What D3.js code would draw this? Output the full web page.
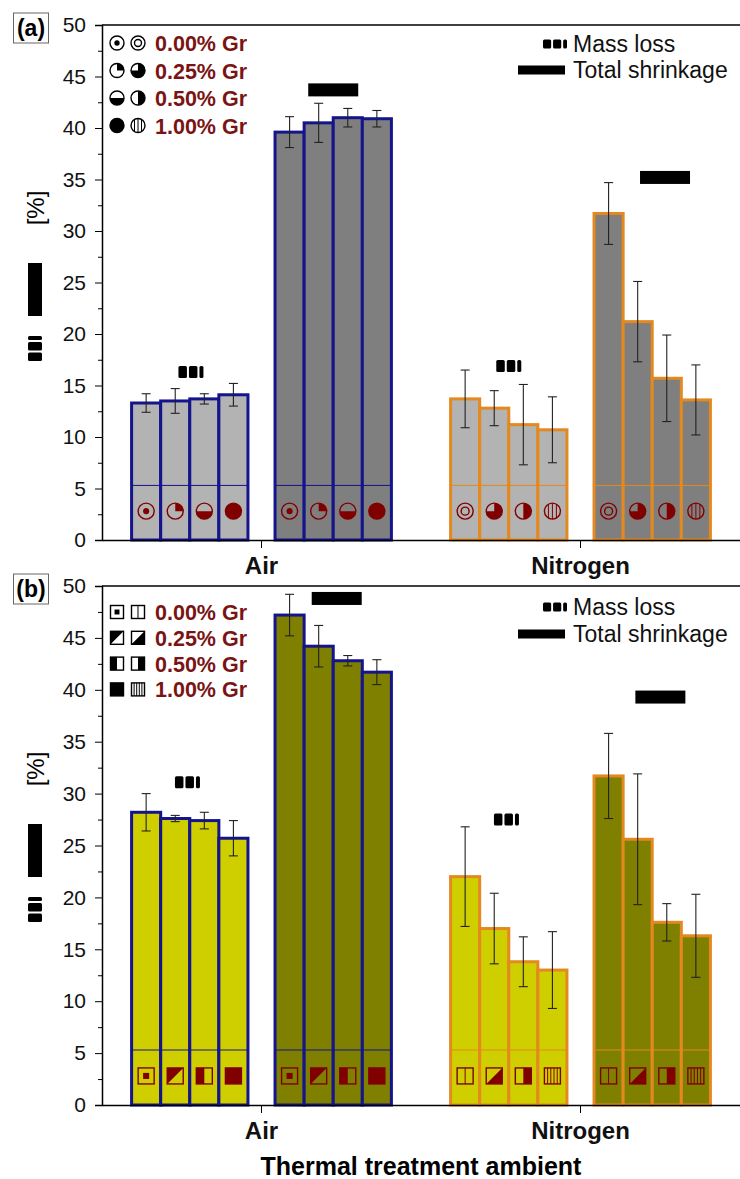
<!DOCTYPE html>
<html>
<head>
<meta charset="utf-8">
<title>Mass loss and total shrinkage</title>
<script src="https://d3js.org/d3.v7.min.js"></script>
<style>
  body { margin: 0; background: #fff; }
  svg { display: block; font-family: Arial, "Liberation Sans", sans-serif; }
</style>
</head>
<body>
<script>
// categories and labels
var categories = ["Air", "Nitrogen"];
var groups = ["mass", "shrink"];
var grLevels = ["0.00% Gr", "0.25% Gr", "0.50% Gr", "1.00% Gr"];
var legendNames = ["Mass loss", "Total shrinkage"];
var yTickValues = [0, 5, 10, 15, 20, 25, 30, 35, 40, 45, 50];
var yMinorValues = [2.5, 7.5, 12.5, 17.5, 22.5, 27.5, 32.5, 37.5, 42.5, 47.5];

// panel (a)
var aAirMass = [13.3, 13.5, 13.7, 14.1];
var aAirMassErr = [0.9, 1.2, 0.5, 1.1];
var aAirShrink = [39.6, 40.5, 41.0, 40.9];
var aAirShrinkErr = [1.5, 1.9, 0.9, 0.8];
var aN2Mass = [13.7, 12.8, 11.2, 10.7];
var aN2MassErr = [2.8, 1.7, 3.9, 3.2];
var aN2Shrink = [31.7, 21.2, 15.7, 13.6];
var aN2ShrinkErr = [3.0, 3.9, 4.2, 3.4];
// label markers above the groups (y value): Air mass, Air shrink, N2 mass, N2 shrink
var aMarkerY = [16.3, 43.7, 16.9, 35.2];

// panel (b)
var bAirMass = [28.2, 27.6, 27.4, 25.7];
var bAirMassErr = [1.8, 0.3, 0.8, 1.7];
var bAirShrink = [47.2, 44.2, 42.8, 41.7];
var bAirShrinkErr = [2.0, 2.0, 0.5, 1.2];
var bN2Mass = [22.0, 17.0, 13.8, 13.0];
var bN2MassErr = [4.8, 3.4, 2.4, 3.7];
var bN2Shrink = [31.7, 25.6, 17.6, 16.3];
var bN2ShrinkErr = [4.1, 6.3, 1.8, 4.0];
var bMarkerY = [31.1, 48.8, 27.5, 39.3];

var width = 740, height = 1179;
var left = 102, right = 740;
var symColor = "#800000";
var edgeColors = {"Air": "#14148c", "Nitrogen": "#e3891f"};

var svg = d3.select("body").append("svg")
  .attr("width", width)
  .attr("height", height);

function buildRows(am, ame, as, ase, nm, nme, ns, nse) {
  var rows = [];
  var src = [["Air", "mass", am, ame], ["Air", "shrink", as, ase],
             ["Nitrogen", "mass", nm, nme], ["Nitrogen", "shrink", ns, nse]];
  src.forEach(function(s) {
    s[2].forEach(function(v, i) {
      rows.push({cat: s[0], grp: s[1], i: i, v: v, e: s[3][i]});
    });
  });
  return rows;
}

var panels = [
  {label: "(a)", top: 25, bottom: 540, shape: "circle",
   fills: {mass: "#b3b3b3", shrink: "#7f7f7f"},
   rows: buildRows(aAirMass, aAirMassErr, aAirShrink, aAirShrinkErr, aN2Mass, aN2MassErr, aN2Shrink, aN2ShrinkErr),
   markers: aMarkerY, markerFrac: [0.51, 0.5, 0.5, 0.61],
   legRowTop: 18, legRowStep: 27.5, legR: 7, rightLeg: [19, 45]},
  {label: "(b)", top: 586, bottom: 1105, shape: "square",
   fills: {mass: "#cfcf00", shrink: "#7f7f00"},
   rows: buildRows(bAirMass, bAirMassErr, bAirShrink, bAirShrinkErr, bN2Mass, bN2MassErr, bN2Shrink, bN2ShrinkErr),
   markers: bMarkerY, markerFrac: [0.48, 0.53, 0.48, 0.57],
   legRowTop: 26, legRowStep: 25.8, legR: 6.5, rightLeg: [21, 48]}
];

var xCat = d3.scaleBand().domain(categories).range([left, right]);
var xGroup = d3.scaleBand().domain(groups).range([0, xCat.bandwidth()])
  .paddingInner(27 / 143).paddingOuter(29.5 / 143);
var xBar = d3.scaleBand().domain([0, 1, 2, 3]).range([0, xGroup.bandwidth()]);

function drawSymbol(g, shape, env, lvl, cx, cy, r, col) {
  var s = g.append("g").attr("fill", col).attr("stroke", col).attr("stroke-width", 1.4);
  if (shape == "circle") {
    if (env == "Air" && lvl == 3) {
      s.append("circle").attr("cx", cx).attr("cy", cy).attr("r", r);
      return;
    }
    s.append("circle").attr("cx", cx).attr("cy", cy).attr("r", r).attr("fill", "none");
    var p = null;
    if (env == "Air") {
      if (lvl == 0) s.append("circle").attr("cx", cx).attr("cy", cy).attr("r", r * 0.38).attr("stroke", "none");
      if (lvl == 1) p = "M" + cx + "," + cy + "L" + cx + "," + (cy - r) + "A" + r + "," + r + " 0 0 1 " + (cx + r) + "," + cy + "Z";
      if (lvl == 2) p = "M" + (cx - r) + "," + cy + "A" + r + "," + r + " 0 0 0 " + (cx + r) + "," + cy + "Z";
    } else {
      if (lvl == 0) s.append("circle").attr("cx", cx).attr("cy", cy).attr("r", r * 0.5).attr("fill", "none");
      if (lvl == 1) p = "M" + cx + "," + cy + "L" + cx + "," + (cy - r) + "A" + r + "," + r + " 0 1 1 " + (cx - r) + "," + cy + "Z";
      if (lvl == 2) p = "M" + cx + "," + (cy - r) + "A" + r + "," + r + " 0 0 1 " + cx + "," + (cy + r) + "Z";
      if (lvl == 3) {
        [-0.5, 0, 0.5].forEach(function(f) {
          var dx = f * r, dy = Math.sqrt(r * r - dx * dx);
          s.append("line").attr("x1", cx + dx).attr("x2", cx + dx)
            .attr("y1", cy - dy).attr("y2", cy + dy).attr("stroke-width", 1);
        });
      }
    }
    if (p) s.append("path").attr("d", p).attr("stroke", "none");
  } else {
    var x0 = cx - r, x1 = cx + r, y0 = cy - r, y1 = cy + r;
    if (env == "Air" && lvl == 3) {
      s.append("rect").attr("x", x0).attr("y", y0).attr("width", 2 * r).attr("height", 2 * r);
      return;
    }
    s.append("rect").attr("x", x0).attr("y", y0).attr("width", 2 * r).attr("height", 2 * r).attr("fill", "none");
    if (env == "Air") {
      if (lvl == 0) s.append("rect").attr("x", cx - r * 0.38).attr("y", cy - r * 0.38)
        .attr("width", r * 0.76).attr("height", r * 0.76).attr("stroke", "none");
      if (lvl == 1) s.append("path").attr("d", "M" + x0 + "," + y0 + "L" + x1 + "," + y0 + "L" + x0 + "," + y1 + "Z").attr("stroke", "none");
      if (lvl == 2) s.append("rect").attr("x", x0).attr("y", y0).attr("width", r).attr("height", 2 * r).attr("stroke", "none");
    } else {
      if (lvl == 0) s.append("line").attr("x1", cx).attr("x2", cx).attr("y1", y0).attr("y2", y1).attr("stroke-width", 1);
      if (lvl == 1) s.append("path").attr("d", "M" + x1 + "," + y0 + "L" + x1 + "," + y1 + "L" + x0 + "," + y1 + "Z").attr("stroke", "none");
      if (lvl == 2) s.append("rect").attr("x", cx).attr("y", y0).attr("width", r).attr("height", 2 * r).attr("stroke", "none");
      if (lvl == 3) {
        [-0.6, -0.2, 0.2, 0.6].forEach(function(f) {
          s.append("line").attr("x1", cx + f * r).attr("x2", cx + f * r)
            .attr("y1", y0).attr("y2", y1).attr("stroke-width", 1);
        });
      }
    }
  }
}

// three little blocks, the "mass loss" mark
function massIcon(g, cx, cy, w, h, vertical) {
  var parts = [[0, 0.34], [0.42, 0.34], [0.84, 0.16]];
  parts.forEach(function(pt) {
    if (!vertical) {
      g.append("rect").attr("x", cx - w / 2 + pt[0] * w).attr("y", cy - h / 2)
        .attr("width", pt[1] * w).attr("height", h).attr("rx", 1.5).attr("fill", "#000");
    } else {
      // w along y (bottom first), h along x
      g.append("rect").attr("x", cx - h / 2).attr("y", cy + w / 2 - (pt[0] + pt[1]) * w)
        .attr("width", h).attr("height", pt[1] * w).attr("rx", 1.5).attr("fill", "#000");
    }
  });
}

function shrinkIcon(g, cx, cy, w, h) {
  g.append("rect").attr("x", cx - w / 2).attr("y", cy - h / 2)
    .attr("width", w).attr("height", h).attr("fill", "#000");
}

function drawPanel(p) {
  var g = svg.append("g");
  var y = d3.scaleLinear().domain([0, 50]).range([p.bottom, p.top]);

  // bars
  var bars = g.append("g");
  p.rows.forEach(function(d) {
    var x = xCat(d.cat) + xGroup(d.grp) + xBar(d.i);
    var bw = xBar.bandwidth();
    var col = edgeColors[d.cat];
    bars.append("rect")
      .attr("x", x).attr("y", y(d.v))
      .attr("width", bw).attr("height", y(0) - y(d.v))
      .attr("fill", p.fills[d.grp])
      .attr("stroke", col).attr("stroke-width", 3);
    bars.append("line")
      .attr("x1", x).attr("x2", x + bw)
      .attr("y1", y(5.3)).attr("y2", y(5.3))
      .attr("stroke", col).attr("stroke-width", 1);
    drawSymbol(bars, p.shape, d.cat, d.i, x + bw / 2, y(2.8), 8, symColor);
  });

  // error bars
  var eb = g.append("g").attr("stroke", "#222").attr("stroke-width", 1.1);
  p.rows.forEach(function(d) {
    var cx = xCat(d.cat) + xGroup(d.grp) + xBar(d.i) + xBar.bandwidth() / 2;
    eb.append("line").attr("x1", cx).attr("x2", cx).attr("y1", y(d.v + d.e)).attr("y2", y(d.v - d.e));
    eb.append("line").attr("x1", cx - 4.5).attr("x2", cx + 4.5).attr("y1", y(d.v + d.e)).attr("y2", y(d.v + d.e));
    eb.append("line").attr("x1", cx - 4.5).attr("x2", cx + 4.5).attr("y1", y(d.v - d.e)).attr("y2", y(d.v - d.e));
  });

  // marks over each group
  var mk = [["Air", "mass"], ["Air", "shrink"], ["Nitrogen", "mass"], ["Nitrogen", "shrink"]];
  mk.forEach(function(m, k) {
    var cx = xCat(m[0]) + xGroup(m[1]) + p.markerFrac[k] * xGroup.bandwidth();
    if (m[1] == "mass") massIcon(g, cx, y(p.markers[k]), 25, 12, false);
    else shrinkIcon(g, cx, y(p.markers[k]), 50, 13);
  });

  // axes
  var yAxis = g.append("g").attr("transform", "translate(" + left + ",0)")
    .call(d3.axisLeft(y).tickValues(yTickValues).tickSize(7).tickPadding(9).tickFormat(d3.format("d")));
  yAxis.selectAll("text").attr("font-size", 21).attr("fill", "#111").attr("font-family", "Arial, 'Liberation Sans', sans-serif");
  yAxis.select(".domain").attr("stroke-width", 1.5);
  var yMinor = g.append("g").attr("transform", "translate(" + left + ",0)")
    .call(d3.axisLeft(y).tickValues(yMinorValues).tickSize(4).tickFormat(""));
  yMinor.select(".domain").remove();

  var xAxis = g.append("g").attr("transform", "translate(0," + p.bottom + ")")
    .call(d3.axisBottom(xCat).tickSize(8).tickSizeOuter(0).tickPadding(9));
  xAxis.selectAll("text").attr("font-size", 24).attr("font-weight", "bold").attr("fill", "#111")
    .attr("font-family", "Arial, 'Liberation Sans', sans-serif");
  xAxis.select(".domain").attr("stroke-width", 1.5);

  // top frame
  g.append("line").attr("x1", left).attr("x2", right).attr("y1", p.top).attr("y2", p.top)
    .attr("stroke", "#000").attr("stroke-width", 1.5);

  // panel tag
  g.append("rect").attr("x", 13.5).attr("y", p.top - 12).attr("width", 35).attr("height", 30)
    .attr("fill", "none").attr("stroke", "#666").attr("stroke-width", 1);
  g.append("text").attr("x", 31).attr("y", p.top + 11).attr("text-anchor", "middle")
    .attr("font-size", 23).attr("font-weight", "bold").text(p.label);

  // y label: marks and [%]
  massIcon(g, 35, p.top + 323.5, 25, 14, true);
  shrinkIcon(g, 35, p.top + 264.5, 14, 53);
  g.append("text").attr("transform", "translate(44," + (p.top + 183) + ") rotate(-90)")
    .attr("text-anchor", "middle").attr("font-size", 24).text("[%]");

  // Gr legend
  grLevels.forEach(function(name, i) {
    var cy = p.top + p.legRowTop + i * p.legRowStep;
    drawSymbol(g, p.shape, "Air", i, 117, cy, p.legR, "#000");
    drawSymbol(g, p.shape, "Nitrogen", i, 138, cy, p.legR, "#000");
    g.append("text").attr("x", 155).attr("y", cy + 8)
      .attr("font-size", 21.5).attr("font-weight", "bold").attr("fill", "#7a1414").text(name);
  });

  // mass / shrink legend
  massIcon(g, 555, p.top + p.rightLeg[0], 24, 9, false);
  shrinkIcon(g, 541.5, p.top + p.rightLeg[1], 47, 9);
  legendNames.forEach(function(name, i) {
    g.append("text").attr("x", 573).attr("y", p.top + p.rightLeg[i] + 8)
      .attr("font-size", 23).attr("fill", "#111").text(name);
  });
}

panels.forEach(drawPanel);

svg.append("text").attr("x", (left + right) / 2).attr("y", 1175)
  .attr("text-anchor", "middle").attr("font-size", 25).attr("font-weight", "bold")
  .text("Thermal treatment ambient");
</script>
</body>
</html>
